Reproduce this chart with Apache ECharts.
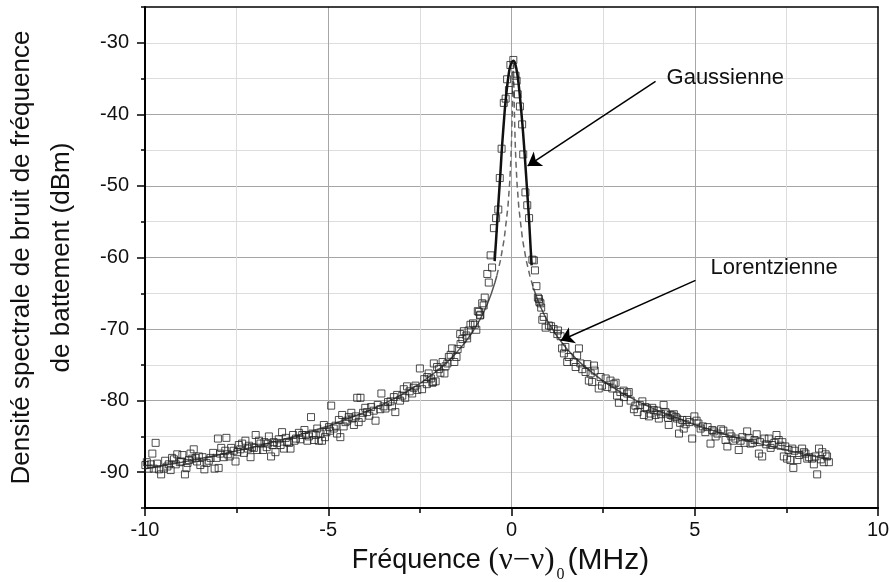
<!DOCTYPE html>
<html>
<head>
<meta charset="utf-8">
<script src="https://cdn.jsdelivr.net/npm/echarts/dist/echarts.min.js"></script>
<style>html,body{margin:0;padding:0;background:#fff}#c{width:890px;height:582px}</style>
</head>
<body>
<div id="c"></div>
<script>
// ---- data ----
const xTicks = [-10, -5, 0, 5, 10];
const yMajorTicks = [-90, -80, -70, -60, -50, -40, -30];

const scatterLeft = [
[-9.99,-89.0],[-9.95,-88.6],[-9.90,-89.5],[-9.84,-88.9],[-9.80,-87.4],[-9.76,-89.5],[-9.71,-85.9],[-9.67,-88.8],[-9.62,-89.6],[-9.56,-90.3],[-9.49,-89.5],[-9.45,-88.4],[-9.39,-89.2],[-9.35,-88.9],[-9.30,-89.7],[-9.26,-88.0],[-9.21,-88.2],[-9.16,-88.9],[-9.12,-87.5],[-9.05,-88.6],[-9.01,-88.5],[-8.98,-87.6],[-8.91,-90.3],[-8.87,-89.4],[-8.84,-88.7],[-8.80,-88.3],[-8.76,-87.4],[-8.71,-88.1],[-8.67,-86.8],[-8.62,-88.0],[-8.58,-88.5],[-8.53,-87.8],[-8.49,-89.0],[-8.43,-87.9],[-8.38,-89.6],[-8.32,-88.7],[-8.26,-88.4],[-8.21,-88.0],[-8.14,-87.3],[-8.10,-89.5],[-8.05,-88.0],[-8.01,-85.3],[-7.99,-89.4],[-7.95,-87.4],[-7.92,-86.6],[-7.85,-87.9],[-7.81,-87.0],[-7.78,-85.2],[-7.74,-87.5],[-7.69,-87.8],[-7.65,-86.6],[-7.58,-87.0],[-7.53,-88.5],[-7.48,-87.2],[-7.44,-86.2],[-7.40,-86.8],[-7.35,-86.0],[-7.30,-87.3],[-7.26,-85.6],[-7.19,-86.7],[-7.16,-86.3],[-7.12,-87.9],[-7.08,-86.5],[-7.03,-86.6],[-6.98,-84.8],[-6.94,-86.9],[-6.89,-85.6],[-6.85,-86.0],[-6.78,-86.9],[-6.74,-85.8],[-6.68,-86.5],[-6.65,-86.0],[-6.62,-85.0],[-6.56,-87.8],[-6.52,-86.2],[-6.49,-85.8],[-6.44,-87.2],[-6.40,-85.9],[-6.35,-85.4],[-6.30,-86.2],[-6.26,-84.4],[-6.21,-86.7],[-6.16,-85.2],[-6.12,-85.8],[-6.07,-85.9],[-6.03,-86.7],[-5.96,-84.8],[-5.92,-85.6],[-5.88,-85.3],[-5.80,-84.5],[-5.76,-85.4],[-5.71,-84.8],[-5.65,-84.1],[-5.61,-84.8],[-5.57,-85.6],[-5.53,-85.0],[-5.47,-82.3],[-5.43,-84.6],[-5.39,-85.5],[-5.34,-84.8],[-5.30,-83.9],[-5.26,-85.6],[-5.21,-84.6],[-5.17,-85.6],[-5.12,-83.4],[-5.09,-85.1],[-5.05,-84.4],[-4.98,-83.7],[-4.95,-84.2],[-4.92,-80.7],[-4.85,-83.9],[-4.80,-83.5],[-4.76,-84.6],[-4.71,-82.7],[-4.67,-85.1],[-4.62,-82.0],[-4.58,-83.6],[-4.53,-83.0],[-4.48,-82.8],[-4.44,-82.3],[-4.37,-81.7],[-4.34,-82.5],[-4.30,-83.4],[-4.25,-82.2],[-4.21,-79.6],[-4.17,-83.0],[-4.12,-79.6],[-4.09,-82.4],[-4.05,-81.7],[-3.99,-81.0],[-3.94,-81.6],[-3.88,-82.1],[-3.83,-80.9],[-3.76,-81.4],[-3.71,-82.8],[-3.65,-80.6],[-3.58,-81.2],[-3.55,-79.0],[-3.49,-80.8],[-3.44,-81.1],[-3.37,-80.2],[-3.30,-80.1],[-3.26,-80.8],[-3.21,-79.5],[-3.17,-81.6],[-3.12,-79.2],[-3.04,-80.0],[-2.98,-79.3],[-2.94,-78.4],[-2.90,-79.6],[-2.85,-78.0],[-2.78,-78.7],[-2.71,-79.0],[-2.67,-78.2],[-2.62,-77.9],[-2.57,-78.5],[-2.50,-75.5],[-2.44,-78.4],[-2.38,-77.0],[-2.31,-77.7],[-2.30,-76.7],[-2.26,-76.2],[-2.20,-76.9],[-2.16,-77.5],[-2.14,-77.4],[-2.12,-74.8],[-2.07,-77.3],[-2.03,-75.3],[-1.98,-75.6],[-1.94,-76.1],[-1.88,-74.6],[-1.83,-76.2],[-1.80,-75.2],[-1.75,-74.8],[-1.71,-73.9],[-1.66,-73.6],[-1.62,-72.7],[-1.56,-74.6],[-1.50,-73.9],[-1.47,-72.8],[-1.39,-72.1],[-1.40,-70.7],[-1.34,-71.4],[-1.30,-70.3],[-1.23,-70.9],[-1.21,-71.3],[-1.17,-70.2],[-1.12,-69.4],[-1.05,-69.2]
];
const scatterPeak = [
[-1.00,-69.4],[-0.96,-70.1],[-0.92,-67.5],[-0.89,-67.6],[-0.86,-68.1],[-0.85,-68.0],[-0.80,-66.4],[-0.76,-66.7],[-0.73,-65.6],[-0.66,-62.3],[-0.62,-63.5],[-0.57,-59.7],[-0.53,-61.4],[-0.48,-55.9],[-0.42,-54.5],[-0.36,-53.3],[-0.32,-48.9],[-0.27,-44.8],[-0.21,-38.4],[-0.16,-37.8],[-0.12,-35.1],[-0.07,-36.6],[-0.03,-33.1],[0.05,-32.4],[0.11,-34.6],[0.14,-35.3],[0.17,-37.2],[0.23,-38.9],[0.29,-41.4],[0.32,-45.6],[0.38,-50.9],[0.43,-52.7],[0.48,-54.5],[0.57,-60.3],[0.61,-60.4],[0.64,-61.8],[0.68,-64.0],[0.72,-65.6],[0.75,-65.8],[0.76,-66.2],[0.79,-66.4],[0.81,-67.0],[0.84,-68.7],[0.88,-68.3],[0.93,-69.8]
];
const scatterRight = [
[1.02,-69.5],[1.08,-69.6],[1.15,-70.0],[1.25,-70.7],[1.27,-70.2],[1.34,-71.0],[1.38,-72.7],[1.43,-73.4],[1.47,-72.5],[1.52,-74.6],[1.56,-73.9],[1.70,-74.6],[1.75,-75.3],[1.79,-73.7],[1.84,-72.7],[1.88,-74.8],[1.93,-75.6],[2.02,-76.0],[2.07,-74.9],[2.11,-77.2],[2.16,-76.2],[2.20,-77.4],[2.25,-75.1],[2.27,-75.8],[2.38,-78.3],[2.43,-76.7],[2.47,-77.9],[2.57,-76.9],[2.61,-78.1],[2.70,-77.2],[2.75,-78.3],[2.79,-77.7],[2.84,-77.5],[2.88,-79.3],[2.93,-80.3],[2.97,-78.8],[3.06,-78.6],[3.07,-79.5],[3.16,-79.0],[3.20,-78.8],[3.25,-80.0],[3.34,-81.2],[3.38,-80.7],[3.44,-81.6],[3.50,-80.6],[3.57,-80.1],[3.61,-82.0],[3.65,-80.9],[3.70,-81.1],[3.75,-82.2],[3.79,-81.8],[3.84,-81.0],[3.88,-81.3],[3.93,-82.0],[3.98,-81.4],[4.02,-82.5],[4.08,-81.9],[4.15,-80.6],[4.20,-81.6],[4.22,-81.8],[4.27,-82.4],[4.29,-83.4],[4.34,-82.0],[4.39,-82.1],[4.43,-81.9],[4.48,-82.3],[4.52,-82.5],[4.57,-84.6],[4.60,-83.1],[4.66,-82.7],[4.70,-83.9],[4.75,-83.3],[4.79,-82.7],[4.86,-83.0],[4.93,-85.3],[4.99,-82.2],[5.05,-82.8],[5.10,-83.2],[5.16,-83.9],[5.22,-83.6],[5.29,-84.4],[5.35,-83.7],[5.43,-86.0],[5.48,-84.1],[5.52,-84.3],[5.57,-85.0],[5.62,-84.6],[5.72,-84.0],[5.78,-84.2],[5.84,-85.5],[5.89,-86.4],[5.95,-84.6],[6.00,-85.0],[6.05,-85.6],[6.11,-85.3],[6.20,-86.9],[6.25,-85.6],[6.30,-85.1],[6.36,-85.9],[6.43,-84.3],[6.47,-85.2],[6.52,-86.0],[6.58,-85.9],[6.63,-85.5],[6.69,-84.7],[6.75,-87.4],[6.78,-85.8],[6.84,-87.8],[6.90,-85.3],[6.95,-86.1],[7.02,-85.3],[7.07,-86.6],[7.11,-86.2],[7.17,-85.9],[7.23,-84.8],[7.29,-85.5],[7.34,-86.3],[7.39,-85.8],[7.43,-87.8],[7.47,-86.4],[7.52,-88.1],[7.56,-86.9],[7.61,-88.3],[7.66,-86.7],[7.69,-89.4],[7.72,-87.0],[7.80,-88.3],[7.85,-87.6],[7.93,-86.7],[7.98,-87.2],[8.02,-87.4],[8.07,-88.1],[8.12,-87.9],[8.20,-88.1],[8.25,-88.9],[8.29,-87.8],[8.34,-90.3],[8.39,-86.7],[8.44,-88.2],[8.48,-87.2],[8.52,-88.6],[8.57,-87.5],[8.61,-87.8],[8.66,-88.6]
];

// Lorentzian fit (solid tails, dashed centre)
const lorentzLeft = [[-10,-89.52],[-9,-88.61],[-8,-87.60],[-7,-86.44],[-6,-85.12],[-5,-83.55],[-4,-81.63],[-3.5,-80.48],[-3,-79.17],[-2.5,-77.61],[-2,-75.72],[-1.75,-74.59],[-1.5,-73.29],[-1.25,-71.76],[-1,-69.90],[-0.85,-68.56],[-0.75,-67.54],[-0.65,-66.38],[-0.55,-65.04],[-0.45,-63.46],[-0.4,-62.54]];
const lorentzCentre = [[-0.4,-62.54],[-0.3,-60.36],[-0.2,-57.44],[-0.1,-53.04],[-0.05,-49.57],[-0.02,-46.58],[0,-43.83],[0.02,-39.99],[0.03,-37.44],[0.04,-34.6],[0.05,-33],[0.06,-34.6],[0.07,-37.44],[0.08,-39.99],[0.1,-43.83],[0.12,-46.58],[0.15,-49.57],[0.2,-53.04],[0.3,-57.44],[0.4,-60.36],[0.5,-62.54],[0.6,-64.29]];
const lorentzRight = [[0.6,-64.29],[0.7,-65.74],[0.8,-66.98],[0.9,-68.07],[1.0,-69.03],[1.25,-71.06],[1.5,-72.71],[1.75,-74.09],[2,-75.28],[2.5,-77.26],[3,-78.88],[3.5,-80.24],[4,-81.41],[5,-83.37],[6,-84.97],[7,-86.32],[8,-87.49],[8.7,-88.22]];

// Gaussian fit
const gauss = [[-0.46,-60.5],[-0.42,-57.5],[-0.37,-53.4],[-0.3,-48.0],[-0.26,-44.6],[-0.2,-40.5],[-0.17,-38.6],[-0.1,-35.3],[-0.05,-33.6],[0,-32.8],[0.05,-32.5],[0.1,-32.9],[0.16,-34.4],[0.22,-37.0],[0.29,-40.9],[0.34,-44.2],[0.39,-47.9],[0.44,-51.7],[0.48,-54.8],[0.52,-58.5],[0.55,-61.1]];

// annotations (data coordinates)
const gaussLabel = ['Gaussienne', 4.23, -34.9];
const gaussArrow = [[3.93, -35.4], [0.44, -47.2]];
const lorLabel = ['Lorentzienne', 5.43, -61.4];
const lorArrow = [[5.02, -63.2], [1.34, -71.6]];

// ---- chart ----
const FONT = '"Liberation Sans", Arial, sans-serif';
const chart = echarts.init(document.getElementById('c'), null, {renderer: 'canvas'});
const tickStyle = {color: '#000', width: 1.5};
chart.setOption({
  animation: false,
  backgroundColor: '#fff',
  grid: {left: 145, right: 12, top: 7, bottom: 74, containLabel: false, outerBoundsMode: 'none'},
  xAxis: [{
    type: 'value', min: xTicks[0], max: xTicks[xTicks.length - 1], interval: 5,
    axisLine: {show: true, onZero: false, lineStyle: {color: '#000', width: 2}},
    axisTick: {show: true, inside: false, length: 8, lineStyle: tickStyle},
    minorTick: {show: true, splitNumber: 2, length: 5, lineStyle: tickStyle},
    splitLine: {show: true, showMinLine: false, showMaxLine: false, lineStyle: {color: '#a6a6a6', width: 1}},
    minorSplitLine: {show: true, lineStyle: {color: '#dddddd', width: 1}},
    axisLabel: {fontSize: 20, color: '#111', fontFamily: FONT, margin: 12},
    name: 'Fréquence {s|(ν−ν)}{sub|0}{m|(MHz)}',
    nameLocation: 'middle', nameGap: 27,
    nameTextStyle: {
      fontSize: 27, color: '#111', fontFamily: FONT, padding: [0, 22, 0, 0],
      rich: {
        s: {fontSize: 31, color: '#111', fontFamily: '"Liberation Serif", "DejaVu Serif", serif'},
        sub: {fontSize: 16, color: '#111', fontFamily: '"Liberation Serif", serif', padding: [28, 3, 0, 2]},
        m: {fontSize: 30, color: '#111', fontFamily: FONT}
      }
    }
  }, {
    type: 'value', position: 'top', min: -10, max: 10,
    axisLine: {show: true, onZero: false, lineStyle: {color: '#000', width: 1.5}},
    axisTick: {show: false}, axisLabel: {show: false}, splitLine: {show: false}
  }],
  yAxis: [{
    type: 'value', min: -95, max: -25, interval: 5, position: 'left',
    axisLine: {show: true, onZero: false, lineStyle: {color: '#000', width: 2}},
    axisTick: {show: true, inside: false, length: 4, lineStyle: tickStyle},
    axisLabel: {
      fontSize: 20, color: '#111', fontFamily: FONT, margin: 16,
      formatter: v => (yMajorTicks.indexOf(v) >= 0 ? String(v) : '')
    },
    splitLine: {show: true, showMinLine: false, showMaxLine: false, lineStyle: {color: '#dddddd', width: 1}},
    name: 'Densité spectrale de bruit de fréquence\nde battement (dBm)',
    nameLocation: 'middle', nameRotate: 90, nameGap: 63,
    nameTextStyle: {fontSize: 26, lineHeight: 40, color: '#111', fontFamily: FONT, align: 'center'}
  }, {
    type: 'value', min: -95, max: -25, position: 'left',
    axisLine: {show: false, onZero: false},
    axisTick: {show: true, inside: false, length: 8, customValues: yMajorTicks, lineStyle: tickStyle},
    axisLabel: {show: false},
    splitLine: {show: true, showMinLine: false, showMaxLine: false, lineStyle: {color: '#a6a6a6', width: 1}}
  }, {
    type: 'value', min: -95, max: -25, position: 'right',
    axisLine: {show: true, onZero: false, lineStyle: {color: '#000', width: 1.5}},
    axisTick: {show: false}, axisLabel: {show: false}, splitLine: {show: false}
  }],
  series: [
    {
      type: 'line', data: lorentzLeft, showSymbol: false, symbol: 'none', silent: true, z: 2,
      lineStyle: {color: '#555', width: 1.5}
    },
    {
      type: 'line', data: lorentzCentre, showSymbol: false, symbol: 'none', silent: true, z: 2,
      lineStyle: {color: '#666', width: 1.5, type: [6, 4]}
    },
    {
      type: 'line', data: lorentzRight, showSymbol: false, symbol: 'none', silent: true, z: 2,
      lineStyle: {color: '#555', width: 1.5}
    },
    {
      type: 'scatter', data: scatterLeft.concat(scatterPeak, scatterRight), symbol: 'rect', symbolSize: 7, silent: true, z: 3,
      itemStyle: {color: 'rgba(0,0,0,0)', borderColor: '#222', borderWidth: 1}
    },
    {
      type: 'line', data: gauss, showSymbol: false, symbol: 'none', silent: true, z: 4, smooth: 0.3,
      lineStyle: {color: '#111', width: 2.5},
      markLine: {
        silent: true, animation: false, symbol: ['none', 'arrow'], symbolSize: 13,
        label: {show: false},
        lineStyle: {color: '#000', width: 1.5, type: 'solid'},
        data: [
          [{coord: gaussArrow[0]}, {coord: gaussArrow[1]}],
          [{coord: lorArrow[0]}, {coord: lorArrow[1]}]
        ]
      },
      markPoint: {
        silent: true, animation: false, symbol: 'circle', symbolSize: 0,
        label: {show: true, position: 'right', distance: 0, formatter: '{b}', fontSize: 22, color: '#111', fontFamily: FONT},
        data: [
          {name: gaussLabel[0], coord: [gaussLabel[1], gaussLabel[2]]},
          {name: lorLabel[0], coord: [lorLabel[1], lorLabel[2]]}
        ]
      }
    }
  ]
});
</script>
</body>
</html>
